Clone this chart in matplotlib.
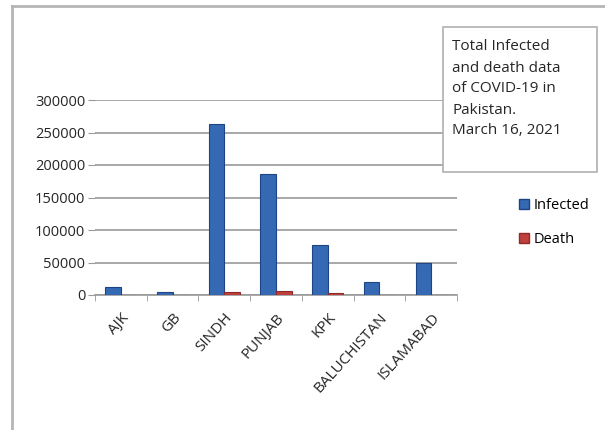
import matplotlib.pyplot as plt
from matplotlib.patches import Rectangle, Patch
from matplotlib.lines import Line2D
import numpy as np

regions = ['AJK', 'GB', 'SINDH', 'PUNJAB', 'KPK', 'BALUCHISTAN', 'ISLAMABAD']
infected = [13000, 5000, 263000, 186000, 77000, 20000, 50000]
deaths = [500, 200, 5000, 6500, 2500, 300, 600]
yticks = [0, 50000, 100000, 150000, 200000, 250000, 300000]
title_lines = ['Total Infected', 'and death data', 'of COVID-19 in', 'Pakistan.', 'March 16, 2021']

W, H = 605, 430
fig = plt.figure(figsize=(W / 100, H / 100), dpi=100)
font = 'Open Sans'
txt = '#262626'

# plot area (pixel positions)
ax = fig.add_axes([95 / W, 1 - 295 / H, (457 - 95) / W, (295 - 100) / H])
x = np.arange(len(regions))
bw = 0.3
ax.bar(x - bw / 2, infected, bw, color='#3569b3', edgecolor='#1d4585', linewidth=0.8, zorder=3)
ax.bar(x + bw / 2, deaths, bw, color='#c0403e', edgecolor='#8f2a28', linewidth=0.8, zorder=3)

ax.set_xlim(-0.5, len(regions) - 0.5)
ax.set_ylim(0, 300000)
ax.set_yticks(yticks)
ax.set_yticklabels([str(v) for v in yticks], fontsize=10.5, family=font, color=txt)
ax.yaxis.grid(True, color='#9a9a9a', linewidth=1.2, zorder=0)
ax.tick_params(axis='y', length=5, color='#9a9a9a', pad=2)

ax.set_xticks(x)
ax.set_xticklabels(regions, rotation=48, ha='right', rotation_mode='anchor',
                   fontsize=11, family=font, color=txt)
ax.tick_params(axis='x', length=0, pad=11)
ax.set_xticks(np.arange(len(regions) + 1) - 0.5, minor=True)
ax.tick_params(axis='x', which='minor', length=4, color='#9a9a9a')

for s in ['top', 'right']:
    ax.spines[s].set_visible(False)
ax.spines['left'].set_visible(False)
ax.spines['bottom'].set_color('#9a9a9a')
ax.spines['bottom'].set_linewidth(1.2)

# outer chart frame (left and top edges visible)
fig.add_artist(Line2D([12 / W, 12 / W], [0, 1 - 6 / H], color='#b5b5b5', linewidth=2))
fig.add_artist(Line2D([12 / W, 1], [1 - 6 / H, 1 - 6 / H], color='#b5b5b5', linewidth=2))

# title box
fig.add_artist(Rectangle((443 / W, 1 - 172 / H), (597 - 443) / W, (172 - 27) / H,
                         transform=fig.transFigure, facecolor='white',
                         edgecolor='#b0b0b0', linewidth=1.2, zorder=5))
for i, line in enumerate(title_lines):
    fig.text(452 / W, 1 - (47 + 21 * i) / H, line, fontsize=11, family=font,
             color=txt, va='center', ha='left', zorder=6)

handles = [Patch(facecolor='#3569b3', edgecolor='#1d4585', label='Infected'),
           Patch(facecolor='#c0403e', edgecolor='#8f2a28', label='Death')]
fig.legend(handles=handles, loc='upper left', bbox_to_anchor=(506 / W, 1 - 185 / H),
           frameon=False, handlelength=0.7, handleheight=0.7, handletextpad=0.3,
           labelspacing=1.3, prop={'family': font, 'size': 10.5})

fig.savefig('out.png', dpi=100, facecolor='white')
